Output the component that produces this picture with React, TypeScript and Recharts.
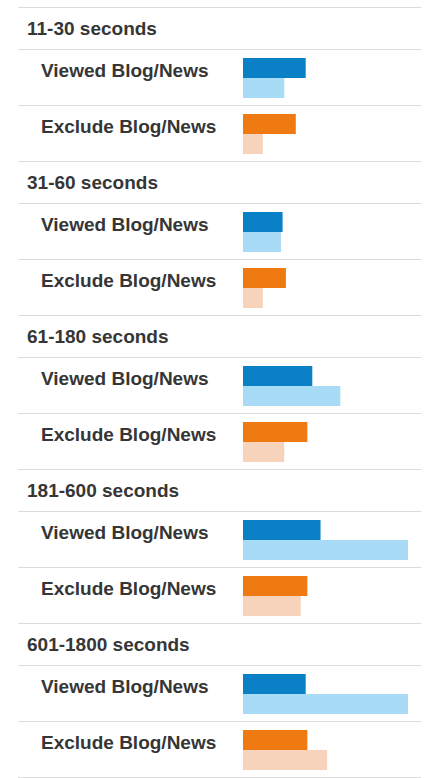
import React from 'react';
import { BarChart, Bar, XAxis, YAxis } from 'recharts';

// time-on-site buckets, each split by segment
const groups = ['11-30 seconds', '31-60 seconds', '61-180 seconds', '181-600 seconds', '601-1800 seconds'];
const segments = ['Viewed Blog/News', 'Exclude Blog/News'];

// relative bar lengths (longest bar = 100)
const viewedCurrent = [38, 24, 42, 47, 38];
const viewedPrevious = [25, 23, 59, 100, 100];
const excludeCurrent = [32, 26, 39, 39, 39];
const excludePrevious = [12, 12, 25, 35, 51];

const SEGMENT_COLORS = [
  { current: '#0a80c6', previous: '#a8dbf5' },
  { current: '#f07a12', previous: '#f6d3ba' },
];

const LINE = '1px solid #dcdcdc';
const FONT = '"Liberation Sans", Arial, sans-serif';

const SegmentRow = ({ label, current, previous, colors }: {
  label: string;
  current: number;
  previous: number;
  colors: { current: string; previous: string };
}) => {
  const data = [{ name: label, current, previous }];
  return (
    <div style={{ position: 'relative', height: 56, boxSizing: 'border-box', borderTop: LINE }}>
      <div style={{ position: 'absolute', left: 23, top: -1, lineHeight: '44px', fontSize: 19, fontWeight: 'bold', color: '#363636' }}>
        {label}
      </div>
      <div style={{ position: 'absolute', left: 225, top: 8 }}>
        <BarChart
          width={170}
          height={40}
          data={data}
          layout="vertical"
          margin={{ top: 0, right: 5, bottom: 0, left: 0 }}
          barCategoryGap={0}
          barGap={0}
        >
          <XAxis type="number" domain={[0, 100]} hide />
          <YAxis type="category" dataKey="name" hide />
          <Bar dataKey="current" fill={colors.current} isAnimationActive={false} />
          <Bar dataKey="previous" fill={colors.previous} isAnimationActive={false} />
        </BarChart>
      </div>
    </div>
  );
};

export default function App() {
  const rows = [
    { current: viewedCurrent, previous: viewedPrevious },
    { current: excludeCurrent, previous: excludePrevious },
  ];

  return (
    <div style={{ position: 'absolute', top: 0, left: 0, width: 428, height: 778, background: '#fff', fontFamily: FONT }}>
      <div style={{ position: 'absolute', top: 7, left: 18, width: 403 }}>
        {groups.map((group, gi) => (
          <div key={group}>
            <div style={{ position: 'relative', height: 42, boxSizing: 'border-box', borderTop: LINE }}>
              <div style={{ position: 'absolute', left: 9, top: -1, lineHeight: '44px', fontSize: 19, fontWeight: 'bold', color: '#363636' }}>
                {group}
              </div>
            </div>
            {segments.map((seg, si) => (
              <SegmentRow
                key={seg}
                label={seg}
                current={rows[si].current[gi]}
                previous={rows[si].previous[gi]}
                colors={SEGMENT_COLORS[si]}
              />
            ))}
          </div>
        ))}
        <div style={{ borderTop: LINE }} />
      </div>
    </div>
  );
}
